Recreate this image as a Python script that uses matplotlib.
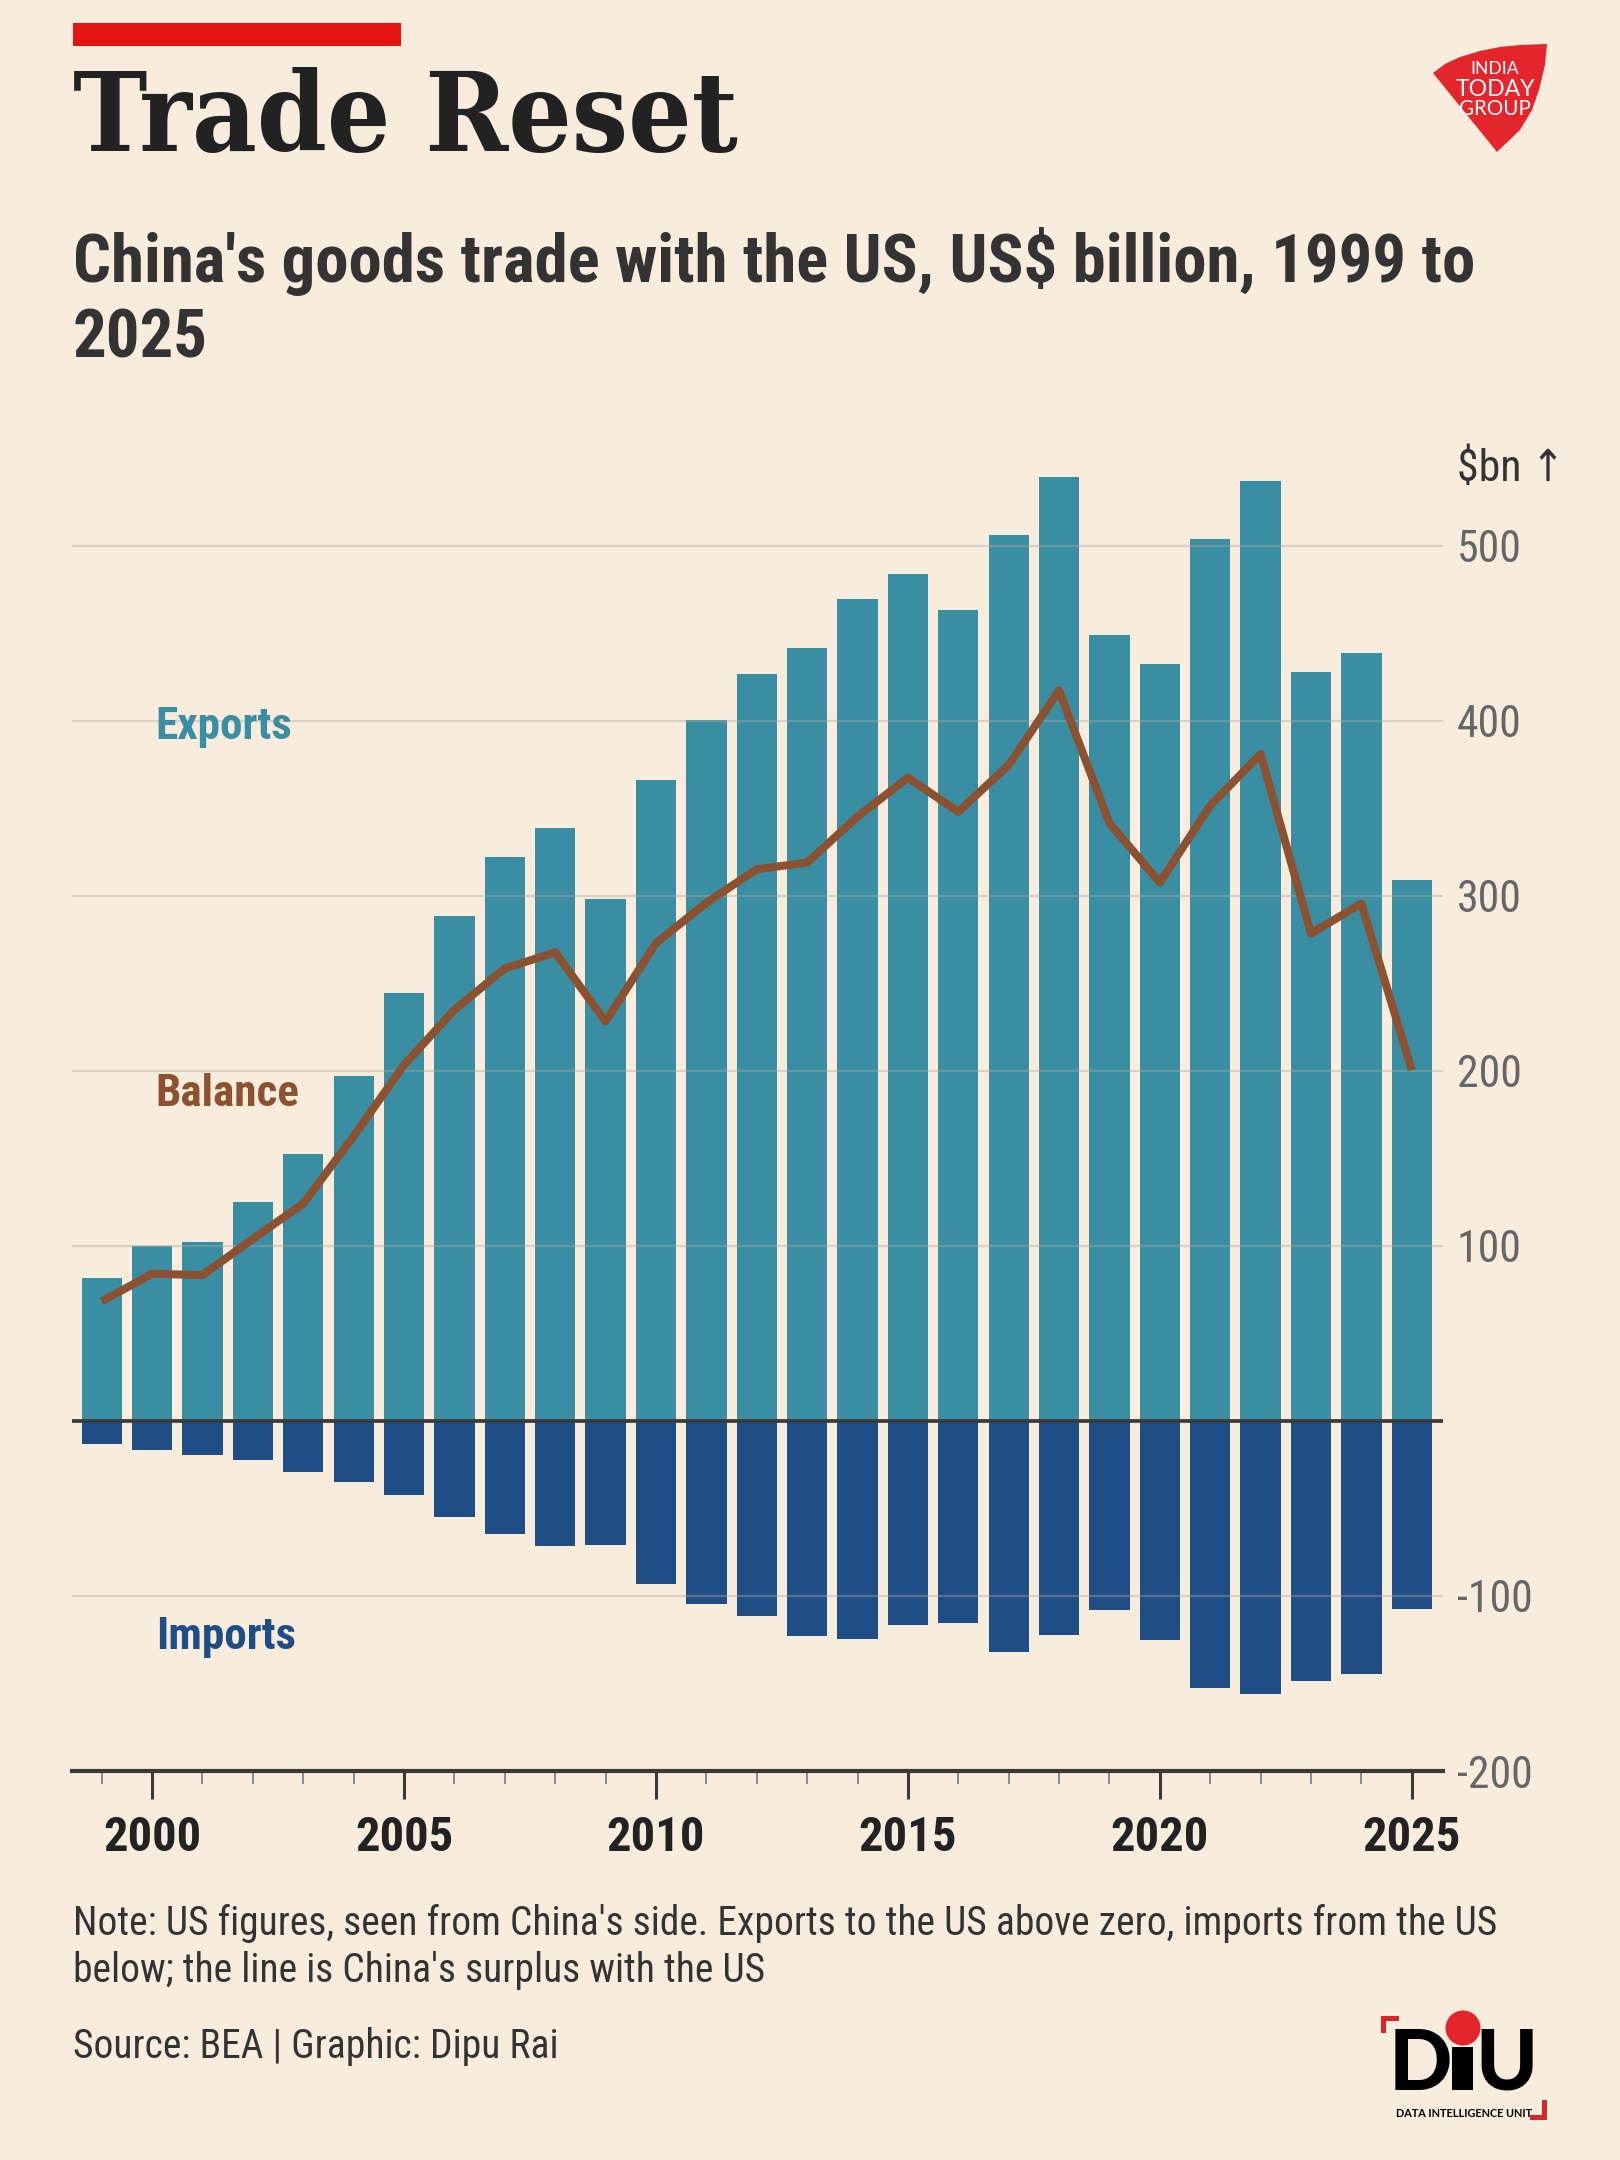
import matplotlib
matplotlib.use('Agg')
import matplotlib.pyplot as plt
from matplotlib import font_manager as fm
from matplotlib.patches import Polygon, Rectangle, Ellipse

# 데이터 (그림에서 읽은 값, US$ billion)
years = list(range(1999, 2026))
exports = [81.4, 99.8, 102.4, 125.3, 152.5, 197.1, 244.6, 288.7, 322.3, 339.0,
           298.2, 366.2, 400.5, 426.7, 441.6, 469.6, 484.0, 463.3, 506.1, 539.4,
           449.0, 432.6, 504.0, 537.0, 427.8, 439.0, 309.0]
imports = [-13.0, -16.6, -19.4, -22.3, -29.1, -34.9, -42.3, -54.9, -64.6, -71.2,
           -70.6, -93.2, -104.5, -111.5, -122.6, -124.4, -116.5, -115.3, -131.8, -122.3,
           -108.0, -125.1, -152.4, -155.8, -148.6, -144.6, -107.4]
balance = [68.3, 84.1, 83.3, 104.0, 124.2, 162.7, 203.4, 234.9, 258.5, 267.7,
           228.2, 273.0, 296.0, 315.2, 319.0, 345.2, 367.5, 348.0, 374.7, 417.4,
           341.5, 307.6, 351.6, 381.0, 278.5, 295.6, 200.5]
ytick_vals = [-200, -100, 100, 200, 300, 400, 500]
grid_vals = [-100, 100, 200, 300, 400, 500]
major_years = [2000, 2005, 2010, 2015, 2020, 2025]

BG = '#f8ecdd'
TEAL = '#3a8ea3'
NAVY = '#1f4e87'
BROWN = '#8b5130'
RED = '#e3140f'
DARK = '#333333'

# 폰트 고르기
names = {f.name for f in fm.fontManager.ttflist}
def pick(*cands):
    for c in cands:
        if c in names:
            return c
    return 'DejaVu Sans'

COND = pick('Roboto Condensed', 'Roboto')
SLAB = pick('Roboto Slab', 'DejaVu Serif Condensed', 'DejaVu Serif')
HEAVY = pick('Lato', 'DejaVu Sans')
plt.rcParams['font.family'] = [COND, 'DejaVu Sans']
plt.rcParams['font.stretch'] = 'condensed'

W, H = 1620, 2160
fig = plt.figure(figsize=(16.2, 21.6), dpi=100, facecolor=BG)

def fx(x):
    return x / W

def fy(y):
    return 1 - y / H

def fit(t, max_w):
    r = fig.canvas.get_renderer()
    w = t.get_window_extent(r).width
    if w > max_w:
        t.set_fontsize(t.get_fontsize() * max_w / w)

# 메인 차트
ax = fig.add_axes([fx(72), fy(1771), (1443 - 72) / W, (1771 - 467) / H])
ax.set_facecolor(BG)
ax.bar(years, exports, width=0.8, color=TEAL, zorder=2)
ax.bar(years, imports, width=0.8, color=NAVY, zorder=2)
for g in grid_vals:
    ax.axhline(g, color='#b0a89e', alpha=0.4, lw=1.6, zorder=3)
ax.axhline(0, color='#3a3a3a', lw=2.7, zorder=4)
ax.plot(years, balance, color=BROWN, lw=5.8, solid_joinstyle='round',
        solid_capstyle='butt', zorder=5)

ax.set_xlim(1998.41, 2025.62)
ax.set_ylim(-200, 545)
for s in ['top', 'left', 'right']:
    ax.spines[s].set_visible(False)
ax.spines['bottom'].set_color('#3a3a3a')
ax.spines['bottom'].set_linewidth(3)

ax.yaxis.tick_right()
ax.set_yticks(ytick_vals)
ax.set_yticklabels([str(v) for v in ytick_vals])
ax.tick_params(axis='y', length=0, pad=10, labelsize=31.5, labelcolor='#666666')

ax.set_xticks(major_years)
ax.set_xticks(years, minor=True)
ax.set_xticklabels([str(y) for y in major_years])
ax.tick_params(axis='x', which='major', length=20, width=2.2, color='#3a3a3a',
               pad=12, labelsize=35, labelcolor='#222222')
ax.tick_params(axis='x', which='minor', length=9, width=1.4, color='#8a8a8a')
for lab in ax.get_xticklabels():
    lab.set_fontweight('bold')

# 시리즈 라벨
ax.text(2000.07, 389.7, 'Exports', color=TEAL, fontsize=32.5, fontweight='bold', va='baseline')
ax.text(2000.07, 180.0, 'Balance', color=BROWN, fontsize=32.5, fontweight='bold', va='baseline')
ax.text(2000.07, -130.3, 'Imports', color=NAVY, fontsize=32.5, fontweight='bold', va='baseline')

fig.text(fx(1457), fy(481), r'\$bn ↑', fontsize=31.5, color=DARK, va='baseline')

# 제목
fig.add_artist(Rectangle((fx(73), fy(46)), 328 / W, 23 / H, transform=fig.transFigure,
                         color=RED, lw=0))
t = fig.text(fx(73), fy(151), 'Trade Reset', fontsize=82, fontweight='bold',
             family=[SLAB, 'DejaVu Serif'], color='#222222', va='baseline')
fit(t, 665)
s1 = fig.text(fx(73), fy(282), "China's goods trade with the US, US$ billion, 1999 to",
              fontsize=49, fontweight='bold', color=DARK, va='baseline')
fit(s1, 1400)
s2 = fig.text(fx(73), fy(358), '2025', fontsize=s1.get_fontsize(), fontweight='bold',
              color=DARK, va='baseline')

# 주석
n1 = fig.text(fx(73), fy(1935), "Note: US figures, seen from China's side. Exports to the US above zero, imports from the US",
              fontsize=28.6, color=DARK, va='baseline')
fit(n1, 1425)
fig.text(fx(73), fy(1982), "below; the line is China's surplus with the US",
         fontsize=n1.get_fontsize(), color=DARK, va='baseline')
fig.text(fx(73), fy(2058), 'Source: BEA | Graphic: Dipu Rai',
         fontsize=n1.get_fontsize(), color=DARK, va='baseline')

# India Today 로고
logo = [(1433, 73), (1445, 64), (1460, 57), (1480, 51), (1500, 47), (1520, 45),
        (1547, 44), (1545, 65), (1539, 90), (1532, 110), (1520, 130), (1497, 152)]
fig.add_artist(Polygon([(fx(x), fy(y)) for x, y in logo], closed=True,
                       transform=fig.transFigure, color='#e4262c', lw=0))
for txt, yb, fs in [('INDIA', 74.5, 12.6), ('TODAY', 96.5, 16.6), ('GROUP', 115, 14.8)]:
    fig.text(fx(1495), fy(yb), txt, fontsize=fs, color='white', family=[HEAVY],
             stretch='normal', ha='center', va='baseline')

# DIU 로고
for (x0, y0, w, h) in [(1381, 2016, 5, 17), (1381, 2016, 18, 5),
                       (1542, 2100, 5, 20), (1530, 2115, 17, 5)]:
    fig.add_artist(Rectangle((fx(x0), fy(y0 + h)), w / W, h / H,
                             transform=fig.transFigure, color='#d9262b', lw=0))
fig.text(fx(1389), fy(2090), 'D', fontsize=60, fontweight='black', family=[HEAVY],
         stretch='normal', color='black', va='baseline', ha='left')
fig.text(fx(1538), fy(2090), 'U', fontsize=60, fontweight='black', family=[HEAVY],
         stretch='normal', color='black', va='baseline', ha='right')
fig.add_artist(Rectangle((fx(1452), fy(2090)), 21 / W, 43 / H,
                         transform=fig.transFigure, color='black', lw=0))
fig.add_artist(Ellipse((fx(1463), fy(2028)), 35 / W, 35 / H, transform=fig.transFigure,
                       color='#e3262b', lw=0))
fig.text(fx(1464), fy(2117), 'DATA INTELLIGENCE UNIT', fontsize=7.8, fontweight='bold',
         family=[HEAVY], stretch='normal', color='black', ha='center', va='baseline')

fig.savefig('out.png', dpi=100, facecolor=BG)
